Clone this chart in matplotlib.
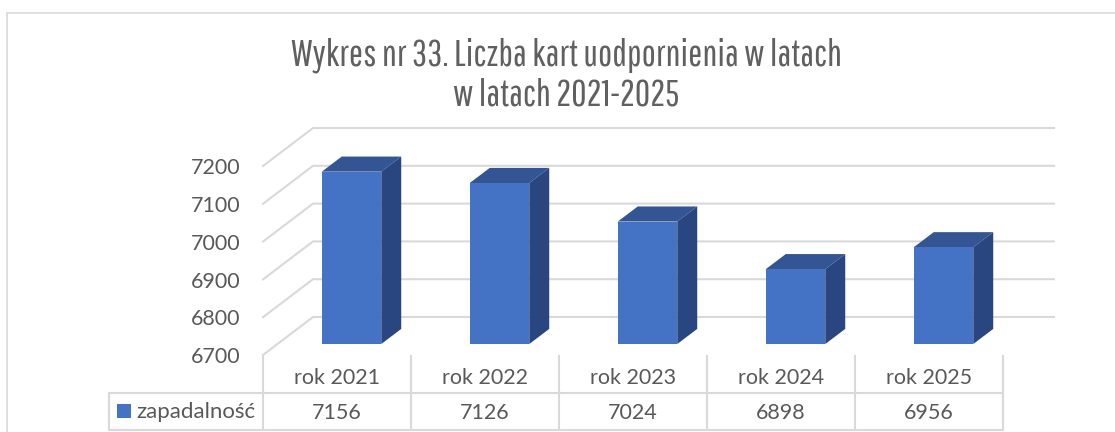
# Wykres nr 33 - slupki 3D rysowane recznie na zwyklej osi
import matplotlib
matplotlib.use("Agg")
import matplotlib.pyplot as plt
from matplotlib.patches import Polygon, Rectangle

categories = ["rok 2021", "rok 2022", "rok 2023", "rok 2024", "rok 2025"]
values = [7156, 7126, 7024, 6898, 6956]
y_ticks = [6700, 6800, 6900, 7000, 7100, 7200]
series_name = "zapadalność"
title = "Wykres nr 33. Liczba kart uodpornienia w latach\nw latach 2021-2025"

W, H = 1115, 432
GRID = "#d9d9d9"
TEXT = "#595959"
FRONT = "#4472c4"
TOP = "#335593"
SIDE = "#2a4680"

fig = plt.figure(figsize=(W / 100, H / 100), dpi=100)
plt.rcParams["font.family"] = ["Lato", "DejaVu Sans"]

# ramka wykresu
fig.add_artist(Rectangle((7 / W, -0.1), 1.1, 0.1 + (H - 13) / H, transform=fig.transFigure,
                         fill=False, edgecolor="#d9d9d9", linewidth=1.2))

# os: przednia sciana od x=263 do 1003, y od 355 (6700) do 166 (7200)
ax = fig.add_axes([263 / W, (H - 355) / H, 740 / W, 189 / H])
ax.set_xlim(0, 5)
ax.set_ylim(6700, 7200)
ax.axis("off")

# glebokosc w jednostkach danych
depth_x = 50 / 148
depth_y = 100.5
wall_end = 5 + 1 / 148 + depth_x
bar_w = 0.402
bar_shift = 0.098
bar_dx = 0.135
bar_dy = 40
plane = 29  # slupki stoja dalej niz przednia krawedz podlogi

for t in y_ticks:
    ax.plot([0, depth_x, wall_end], [t, t + depth_y, t + depth_y], color=GRID, lw=1.5,
            clip_on=False, zorder=1, solid_joinstyle="miter")
    ax.text(-0.15, t - 6, str(t), ha="right", va="center", fontsize=15.5, color=TEXT, clip_on=False)

for i, v in enumerate(values):
    x0 = i + 0.5 - bar_w / 2 + bar_shift
    x1 = x0 + bar_w
    base = y_ticks[0] + plane
    top = v + plane
    ax.add_patch(Polygon([(x0, top), (x1, top), (x1 + bar_dx, top + bar_dy), (x0 + bar_dx, top + bar_dy)],
                         facecolor=TOP, edgecolor="none", clip_on=False, zorder=3))
    ax.add_patch(Polygon([(x1, base), (x1 + bar_dx, base + bar_dy), (x1 + bar_dx, top + bar_dy), (x1, top)],
                         facecolor=SIDE, edgecolor="none", clip_on=False, zorder=3))
    ax.add_patch(Rectangle((x0, base), bar_w, top - base, facecolor=FRONT, edgecolor="none",
                           clip_on=False, zorder=4))

# tabela danych pod wykresem (pozycje w pikselach figury)
def px_line(x0, y0, x1, y1):
    fig.add_artist(plt.Line2D([x0 / W, x1 / W], [(H - y0) / H, (H - y1) / H], color=GRID, lw=1.5))

row_top, row_mid, row_bot = 356, 393, 430
cell = 148
left = 263
legend_left = 109
for i in range(len(categories) + 1):
    px_line(left + i * cell, row_top, left + i * cell, row_bot)
px_line(legend_left, row_mid, left + 5 * cell, row_mid)
px_line(legend_left, row_bot, left + 5 * cell, row_bot)
px_line(legend_left, row_mid, legend_left, row_bot)

for i, c in enumerate(categories):
    fig.text((left + (i + 0.5) * cell) / W, (H - 378) / H, c, ha="center", va="center",
             fontsize=15.5, color=TEXT)
    fig.text((left + (i + 0.5) * cell) / W, (H - 413) / H, str(values[i]), ha="center", va="center",
             fontsize=15.5, color=TEXT)

fig.add_artist(Rectangle((117 / W, (H - 418) / H), 14 / W, 14 / H, transform=fig.transFigure,
                         facecolor=FRONT, edgecolor="none"))
fig.text(136 / W, (H - 412) / H, series_name, ha="left", va="center", fontsize=16, color=TEXT)

fig.text(566.5 / W, (H - 75) / H, title, ha="center", va="center", fontsize=27, color="#606060",
         family=["Pathway Gothic One", "Liberation Sans"], linespacing=1.15)

fig.savefig("out.png", dpi=100)
